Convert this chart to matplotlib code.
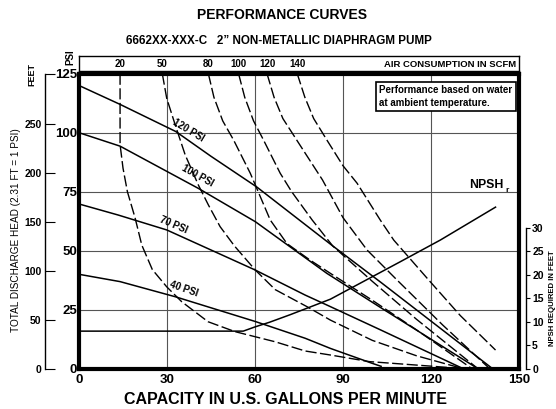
import matplotlib
matplotlib.use("Agg")
import matplotlib.pyplot as plt

NARROW = ["Liberation Sans Narrow", "Liberation Sans", "DejaVu Sans"]
WIDE = ["Liberation Sans", "DejaVu Sans"]

# pressure curves: capacity (GPM) vs head (PSI)
psi120_gpm = [0, 14, 33, 45, 60.6, 86, 103, 141]
psi120_head = [120, 112, 100.5, 90, 77, 52.5, 36.5, 0]
psi100_gpm = [0, 14, 40.7, 60.1, 84.5, 102.7, 136]
psi100_head = [100, 94.3, 76.4, 62.3, 40.4, 26, 0]
psi70_gpm = [0, 13.4, 29.9, 60.1, 77.1, 85.7, 102.7, 131]
psi70_head = [69.8, 65.1, 58.8, 41.8, 31.2, 26.3, 16.5, 0]
psi40_gpm = [0, 14, 32.8, 60.1, 77.1, 85.7, 99.9, 103]
psi40_head = [40, 36.9, 30.5, 20, 12.9, 8.6, 2.3, 1]
pressure_labels = ["120 PSI", "100 PSI", "70 PSI", "40 PSI"]

# air consumption curves (SCFM)
scfm20_gpm = [14, 14, 15, 16.5, 19.1, 21.4, 25, 29.9, 35, 44, 53.2, 66.9, 77.1, 85.7, 99, 119.8, 131]
scfm20_head = [125, 95, 85, 75, 64, 52.4, 42, 34.7, 28.4, 19.9, 15.7, 11.4, 7.5, 5.8, 3, 1.1, 0]
scfm50_gpm = [28.4, 29.9, 32.8, 36.2, 40.7, 44.1, 48.1, 53, 60.1, 66.9, 77.7, 85.7, 100, 115, 131]
scfm50_head = [125, 114.6, 103.3, 90.6, 77.8, 69.4, 60.2, 52, 41.8, 33.5, 26.3, 20.6, 12, 5.5, 0]
scfm80_gpm = [44.1, 46, 49, 52.7, 58.4, 60.6, 65.2, 70.9, 78.8, 85.7, 100, 115, 134]
scfm80_head = [125, 115, 105, 96.9, 82.8, 76.4, 63, 53, 46, 40.4, 29, 16.5, 0]
scfm100_gpm = [54.4, 56.5, 59.5, 62.9, 68.6, 72.5, 79.5, 86.5, 100, 115, 136]
scfm100_head = [125, 115, 105, 96.9, 82.8, 75, 63, 52, 37, 21, 0]
scfm120_gpm = [64.1, 66.5, 69.5, 75.2, 83, 90, 98.2, 108.4, 124, 140]
scfm120_head = [125, 115, 106, 95, 80, 64, 50.3, 37.6, 18.5, 0]
scfm140_gpm = [74.4, 77, 80, 84.5, 90, 94.8, 102.7, 107.3, 119.2, 130, 142]
scfm140_head = [125, 115, 106, 96.9, 86, 78.6, 63, 54.5, 37.6, 22.5, 7.9]
scfm_labels = ["20", "50", "80", "100", "120", "140"]

# NPSH required (feet)
npsh_gpm = [0, 56, 60, 65, 72, 85.7, 109.6, 123.2, 142]
npsh_ft = [8.0, 8.0, 8.9, 9.9, 11.5, 14.8, 22.8, 27.4, 34.4]

x_ticks = [0, 30, 60, 90, 120, 150]
psi_ticks = [0, 25, 50, 75, 100, 125]
feet_ticks = [0, 50, 100, 150, 200, 250]
npsh_ticks = [0, 5, 10, 15, 20, 25, 30]

W, H = 556, 409


def fx(px):
    return px / W


def fy(py):
    return 1 - py / H


fig = plt.figure(figsize=(5.56, 4.09), dpi=100)
ax = fig.add_axes([fx(79), fy(368.7), 440 / W, 295 / H])
ax.set_xlim(0, 150)
ax.set_ylim(0, 125)
for s in ax.spines.values():
    s.set_linewidth(3)
for g in x_ticks[1:-1]:
    ax.axvline(g, color="#555555", lw=0.8, zorder=1)
for g in psi_ticks[1:-1]:
    ax.axhline(g, color="#555555", lw=0.8, zorder=1)

ax.set_xticks(x_ticks)
ax.set_yticks(psi_ticks)
ax.tick_params(length=0)
ax.tick_params(axis="x", pad=4)
ax.tick_params(axis="y", pad=1.5)
for lab in ax.get_xticklabels() + ax.get_yticklabels():
    lab.set_family(NARROW)
    lab.set_fontweight("bold")
    lab.set_fontsize(9.5)

solid = [(psi120_gpm, psi120_head), (psi100_gpm, psi100_head),
         (psi70_gpm, psi70_head), (psi40_gpm, psi40_head)]
for xs, ys in solid:
    ax.plot(xs, ys, color="black", lw=1.1, zorder=3)

dashed = [(scfm20_gpm, scfm20_head), (scfm50_gpm, scfm50_head), (scfm80_gpm, scfm80_head),
          (scfm100_gpm, scfm100_head), (scfm120_gpm, scfm120_head), (scfm140_gpm, scfm140_head)]
for xs, ys in dashed:
    ax.plot(xs, ys, color="black", lw=1.0, ls=(0, (8, 2.5)), zorder=3)

# pressure labels along the lines
lab_pos = [(37.2, 100.8, -31), (40.3, 81.6, -29), (32.4, 61.0, -23), (35.7, 33.8, -19)]
for txt, (lx, ly, rot) in zip(pressure_labels, lab_pos):
    ax.text(lx, ly, txt, rotation=rot, ha="center", va="center", rotation_mode="anchor",
            family=NARROW, fontweight="bold", fontsize=7, zorder=4)

# NPSH axis on the right
ax2 = ax.twinx()
ax2.set_ylim(0, 125 * 0.5025)
for k in ["left", "top", "bottom"]:
    ax2.spines[k].set_visible(False)
ax2.spines["right"].set_position(("outward", 5))
ax2.spines["right"].set_bounds(0, 30)
ax2.spines["right"].set_linewidth(1)
ax2.set_yticks(npsh_ticks)
ax2.tick_params(axis="y", direction="out", length=3, pad=1.5)
for lab in ax2.get_yticklabels():
    lab.set_family(NARROW)
    lab.set_fontweight("bold")
    lab.set_fontsize(7.5)
ax2.plot(npsh_gpm, npsh_ft, color="black", lw=1.1)

# feet axis on the left
axf = fig.add_axes([fx(45), fy(368.7), 0.0001, 295 / H])
axf.set_ylim(0, 301.4)
for k in ["right", "top", "bottom"]:
    axf.spines[k].set_visible(False)
axf.spines["left"].set_linewidth(1)
axf.set_xticks([])
axf.set_yticks(feet_ticks + [301.4])
axf.set_yticklabels([str(t) for t in feet_ticks] + [""])
axf.tick_params(axis="y", direction="in", length=7, pad=2.5)
for lab in axf.get_yticklabels():
    lab.set_family(NARROW)
    lab.set_fontweight("bold")
    lab.set_fontsize(7.5)

# air consumption strip
axt = fig.add_axes([fx(79), fy(71), 440 / W, 15 / H])
axt.set_xlim(0, 150)
axt.set_ylim(0, 1)
axt.set_xticks([])
axt.set_yticks([])
for s in axt.spines.values():
    s.set_linewidth(1)
for txt, (xs, _) in zip(scfm_labels, dashed):
    axt.text(xs[0], 0.45, txt, ha="center", va="center", family=NARROW,
             fontweight="bold", fontsize=7)
axt.text(149, 0.45, "AIR CONSUMPTION IN SCFM", ha="right", va="center",
         family=NARROW, fontweight="bold", fontsize=6.8)

# texts
fig.text(fx(282), fy(15), "PERFORMANCE CURVES", ha="center", va="center",
         family=WIDE, fontweight="bold", fontsize=10)
fig.text(fx(279), fy(41), "6662XX-XXX-C   2\u201d NON-METALLIC DIAPHRAGM PUMP", ha="center",
         va="center", family=NARROW, fontweight="bold", fontsize=8.4)
fig.text(fx(16), fy(230), "TOTAL DISCHARGE HEAD (2.31 FT = 1 PSI)", rotation=90,
         ha="center", va="center", family=NARROW, fontsize=7.2)
fig.text(fx(552), fy(298), "NPSH REQUIRED IN FEET", rotation=90, ha="center", va="center",
         family=NARROW, fontweight="bold", fontsize=5.6)
fig.text(fx(286), fy(400), "CAPACITY IN U.S. GALLONS PER MINUTE", ha="center", va="center",
         family=NARROW, fontweight="bold", fontsize=11.5)
fig.text(fx(70), fy(57), "PSI", rotation=90, ha="center", va="center",
         family=NARROW, fontweight="bold", fontsize=7)
fig.text(fx(32), fy(74), "FEET", rotation=90, ha="center", va="center",
         family=NARROW, fontweight="bold", fontsize=6.5)
fig.text(fx(504), fy(185), "NPSH", ha="right", va="center",
         family=NARROW, fontweight="bold", fontsize=8.8)
fig.text(fx(505), fy(190), "r", ha="left", va="center",
         family=NARROW, fontweight="bold", fontsize=6)
fig.text(fx(379), fy(85), "Performance based on water\nat ambient temperature.",
         ha="left", va="top", family=NARROW, fontweight="bold", fontsize=7, linespacing=1.35,
         bbox=dict(boxstyle="square,pad=0.35", fc="white", ec="black", lw=1.2))

fig.savefig("out.png", dpi=100)
